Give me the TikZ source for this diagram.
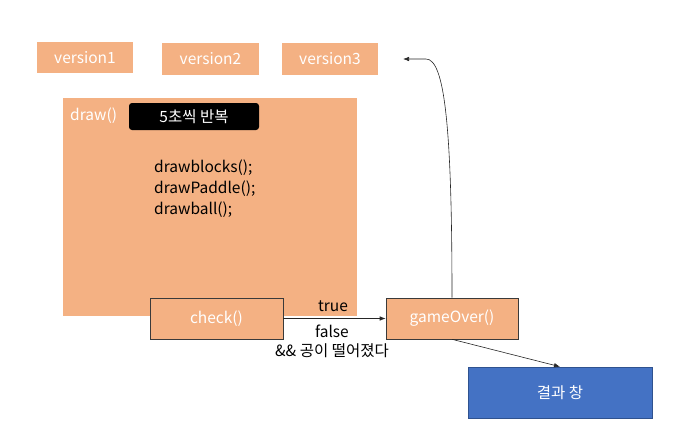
\documentclass[tikz,border=0pt]{standalone}
\usepackage{fontspec}
\setmainfont{Noto Sans CJK KR}
\usetikzlibrary{arrows.meta}
\definecolor{boxor}{HTML}{F4B183}
\definecolor{boxorline}{HTML}{3A3A3A}
\definecolor{resblue}{HTML}{4472C4}
\definecolor{resblueline}{HTML}{2F528F}
\begin{document}
\begin{tikzpicture}[x=1pt,y=-1pt,
  verbox/.style={fill=boxor,draw=none,text=white,font=\fontsize{15.5}{17}\selectfont,inner sep=0pt},
  funcbox/.style={fill=boxor,draw=boxorline,line width=0.6pt,text=white,font=\fontsize{15.5}{17}\selectfont,inner sep=0pt},
  plaintxt/.style={font=\fontsize{15.5}{18}\selectfont,text=black,inner sep=0pt},
  conn/.style={draw=black!85,line width=0.6pt,-{Latex[length=6pt,width=4.5pt]}}]
\useasboundingbox (0,0) rectangle (697,432);
% version boxes
\node[verbox,minimum width=96pt,minimum height=31pt] (v1) at (85,57.5) {version1};
\node[verbox,minimum width=97pt,minimum height=32pt] (v2) at (210.5,59) {version2};
\node[verbox,minimum width=96pt,minimum height=32pt] (v3) at (330,59) {version3};
% draw box
\node[fill=boxor,draw=none,minimum width=294pt,minimum height=218pt,inner sep=0pt] (drawbox) at (210,207) {};
\node[plaintxt,text=white,anchor=west] (drawlbl) at (70,116) {draw()};
\node[fill=black,rounded corners=3pt,minimum width=130pt,minimum height=27pt,inner sep=0pt,text=white,font=\fontsize{15.5}{17}\selectfont] (rep) at (194,116.5) {5초씩 반복};
\node[plaintxt,anchor=north west,align=left,font=\fontsize{15.5}{21}\selectfont] (calls) at (154,160) {drawblocks();\\drawPaddle();\\drawball();};
% check and gameOver
\node[funcbox,minimum width=133pt,minimum height=41pt] (check) at (216.5,318.5) {check()};
\node[funcbox,minimum width=132pt,minimum height=41pt] (go) at (452,318.5) {gameOver()};
% result
\node[fill=resblue,draw=resblueline,line width=0.6pt,minimum width=184pt,minimum height=51pt,inner sep=0pt,text=white,font=\fontsize{15.5}{17}\selectfont] (res) at (560,392.5) {결과 창};
% labels
\node[plaintxt] (truelbl) at (333,306) {true};
\node[plaintxt,align=center,font=\fontsize{15.5}{19}\selectfont] (falselbl) at (332,341.5) {false\\\&\& 공이 떨어졌다};
% connectors
\coordinate (v3tip) at (403,59);
\draw[conn] (check.east) -- (go.west);
\draw[conn] (go.south) -- (res.north);
\draw[conn] (go.north) .. controls (452,130) and (445,59) .. (426,59) -- (v3tip);
\end{tikzpicture}
\end{document}
